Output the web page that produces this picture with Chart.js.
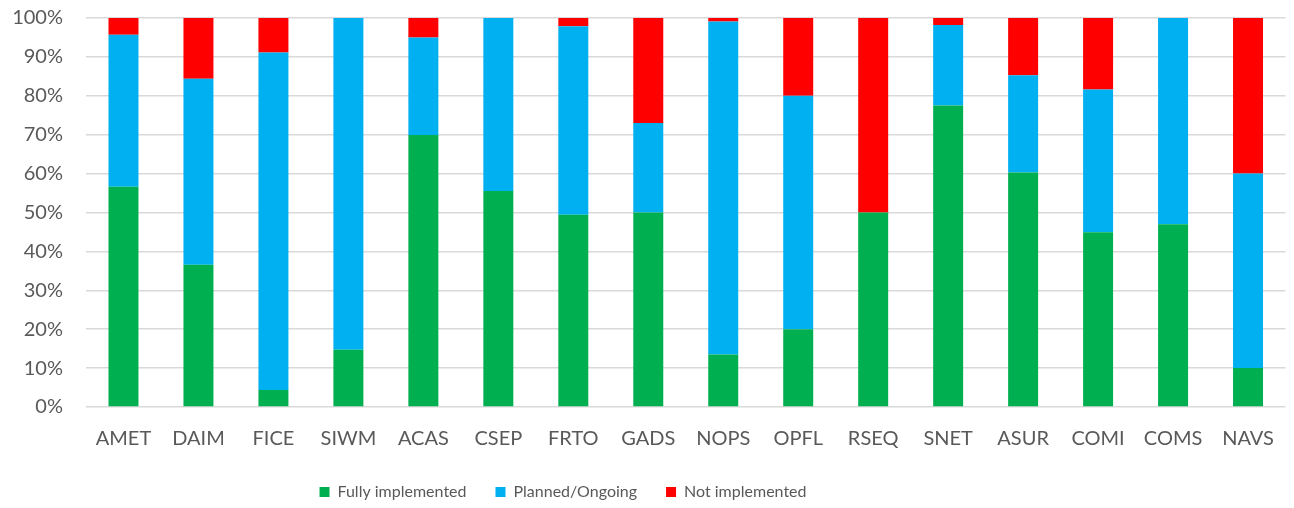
<!DOCTYPE html>
<html>
<head>
<meta charset="utf-8">
<script src="https://cdn.jsdelivr.net/npm/chart.js@4"></script>
<style>
  html, body { margin: 0; padding: 0; background: #fff; }
  #wrap { width: 1294px; height: 508px; position: relative; }
</style>
</head>
<body>
<div id="wrap"><canvas id="c" width="1294" height="508"></canvas></div>
<script>
const categories = ["AMET","DAIM","FICE","SIWM","ACAS","CSEP","FRTO","GADS","NOPS","OPFL","RSEQ","SNET","ASUR","COMI","COMS","NAVS"];
const fullyImplemented = [56.6, 36.6, 4.4, 14.7, 69.9, 55.5, 49.4, 50, 13.5, 20, 50, 77.5, 60.3, 44.9, 47, 10];
const plannedOngoing   = [39.1, 47.8, 86.7, 85.3, 25.1, 44.5, 48.5, 23, 85.6, 60, 0, 20.7, 25, 36.7, 53, 50];
const notImplemented   = [4.3, 15.6, 8.9, 0, 5, 0, 2.1, 27, 0.9, 20, 50, 1.8, 14.7, 18.4, 0, 40];
const seriesNames = ["Fully implemented", "Planned/Ongoing", "Not implemented"];
const yTicks = [0, 10, 20, 30, 40, 50, 60, 70, 80, 90, 100];

const FONT = "Lato";
const TEXT = "#595959";

const legendTweak = {
  id: 'legendTweak',
  beforeLayout(chart) {
    const lg = chart.legend;
    if (lg && !lg._wrappedFit) {
      const orig = lg.fit.bind(lg);
      lg.fit = function () { orig(); this.height = 57; };
      lg._wrappedFit = true;
    }
  },
  afterLayout(chart) {
    const lg = chart.legend;
    if (!lg) return;
    const off = -83;
    lg.left += off;
    lg.right += off;
    lg.top += 4;
    lg.bottom += 4;
  }
};

new Chart(document.getElementById('c'), {
  type: 'bar',
  data: {
    labels: categories,
    datasets: [
      { label: seriesNames[0], data: fullyImplemented, backgroundColor: '#00B050' },
      { label: seriesNames[1], data: plannedOngoing, backgroundColor: '#00B0F0' },
      { label: seriesNames[2], data: notImplemented, backgroundColor: '#FF0000' }
    ]
  },
  options: {
    responsive: false,
    animation: false,
    devicePixelRatio: 1,
    layout: { padding: { top: 18, right: 2, left: 0, bottom: 0 } },
    datasets: { bar: { barPercentage: 1, categoryPercentage: 0.4, borderWidth: 0 } },
    plugins: {
      tooltip: { enabled: false },
      legend: {
        position: 'bottom',
        labels: {
          boxWidth: 10, boxHeight: 10, padding: 29,
          color: TEXT,
          font: { family: FONT, size: 16 }
        }
      }
    },
    scales: {
      x: {
        stacked: true,
        afterFit(s) { s.height = 44; },
        grid: { display: false, drawTicks: false },
        border: { display: false },
        ticks: { color: TEXT, font: { family: FONT, size: 20 }, padding: 20, maxRotation: 0, autoSkip: false }
      },
      y: {
        stacked: true,
        min: 0, max: 100,
        afterFit(s) { s.width = 86; s.paddingTop = 0; s.paddingBottom = 0; },
        afterBuildTicks(s) { s.ticks = yTicks.map(v => ({ value: v })); },
        grid: { color: '#D9D9D9', lineWidth: 1.5, drawTicks: false },
        border: { display: false },
        ticks: {
          color: TEXT, font: { family: FONT, size: 20 }, padding: 23,
          callback: v => v + '%'
        }
      }
    }
  },
  plugins: [legendTweak]
});
</script>
</body>
</html>
